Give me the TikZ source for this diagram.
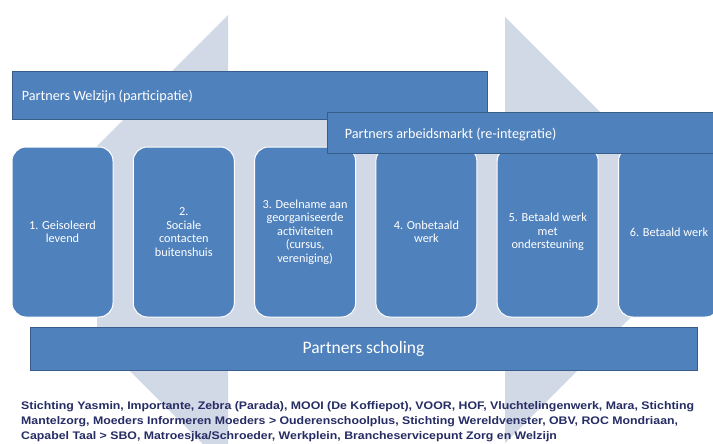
\documentclass[tikz,border=0pt]{standalone}
\usepackage{fontspec}
\setmainfont{Carlito}
\newfontfamily\notefont{Liberation Sans}[FakeStretch=1.12]
\definecolor{bggray}{RGB}{209,216,230}
\definecolor{boxblue}{RGB}{79,129,189}
\definecolor{bordblue}{RGB}{56,93,138}
\definecolor{notecol}{RGB}{38,44,100}
\begin{document}
\begin{tikzpicture}[x=1pt,y=-1pt,
  bgshape/.style={fill=bggray, draw=none},
  bar/.style={rectangle, fill=boxblue, draw=bordblue, line width=0.8pt, inner sep=0pt},
  stepbox/.style={rectangle, rounded corners=14pt, fill=boxblue, draw=white, line width=1pt,
    minimum width=101pt, minimum height=170pt, inner sep=0pt, text=white, align=center,
    font=\fontsize{12.3}{13.5}\selectfont},
  bartext/.style={text=white, inner sep=0pt, font=\fontsize{14.2}{16}\selectfont},
  note/.style={text=notecol, inner sep=0pt, anchor=base west, font=\notefont\bfseries\fontsize{11}{12}\selectfont}]
\useasboundingbox (0,0) rectangle (713,444);
\clip (0,0) rectangle (713,444);
% background arrows
\fill[bgshape] (228,15) -- (97,146) -- (97,338) -- (228,469) -- cycle;
\fill[bgshape] (505,17) -- (634,146) -- (634,314) -- (505,443) -- cycle;
\fill[bgshape] (227,119) rectangle (506,345);
% Welzijn bar
\node[bar, minimum width=475pt, minimum height=48pt] (welzijn) at (249.5,95) {};
\node[bartext, anchor=west] (welzijnt) at ([xshift=10pt,yshift=-2pt]welzijn.west) {Partners Welzijn (participatie)};
% step boxes
\node[stepbox] (s1) at (62.5,232) {1. Geisoleerd\\levend};
\node[stepbox] (s2) at (183.8,232) {2.\\Sociale\\contacten\\buitenshuis};
\node[stepbox] (s3) at (305.1,232) {3. Deelname aan\\georganiseerde\\activiteiten\\(cursus,\\vereniging)};
\node[stepbox] (s4) at (426.4,232) {4. Onbetaald\\werk};
\node[stepbox] (s5) at (547.7,232) {5. Betaald werk\\met\\ondersteuning};
\node[stepbox] (s6) at (669,232) {6. Betaald werk};
% arbeidsmarkt bar
\node[bar, minimum width=393pt, minimum height=41pt] (arbeid) at (523.5,132.5) {};
\node[bartext, anchor=west] (arbeidt) at ([xshift=18pt,yshift=-2pt]arbeid.west) {Partners arbeidsmarkt (re-integratie)};
% scholing bar
\node[bar, minimum width=667pt, minimum height=43pt, text=white, font=\fontsize{17.5}{20}\selectfont] (scholing) at (363.5,348.5) {Partners scholing};
% note lines
\node[note] (l1) at (21,409) {Stichting Yasmin, Importante, Zebra (Parada), MOOI (De Koffiepot), VOOR, HOF, Vluchtelingenwerk, Mara, Stichting};
\node[note] (l2) at (21,424) {Mantelzorg, Moeders Informeren Moeders > Ouderenschoolplus, Stichting Wereldvenster, OBV, ROC Mondriaan,};
\node[note] (l3) at (21,439) {Capabel Taal > SBO, Matroesjka/Schroeder, Werkplein, Brancheservicepunt Zorg en Welzijn};
\end{tikzpicture}
\end{document}
